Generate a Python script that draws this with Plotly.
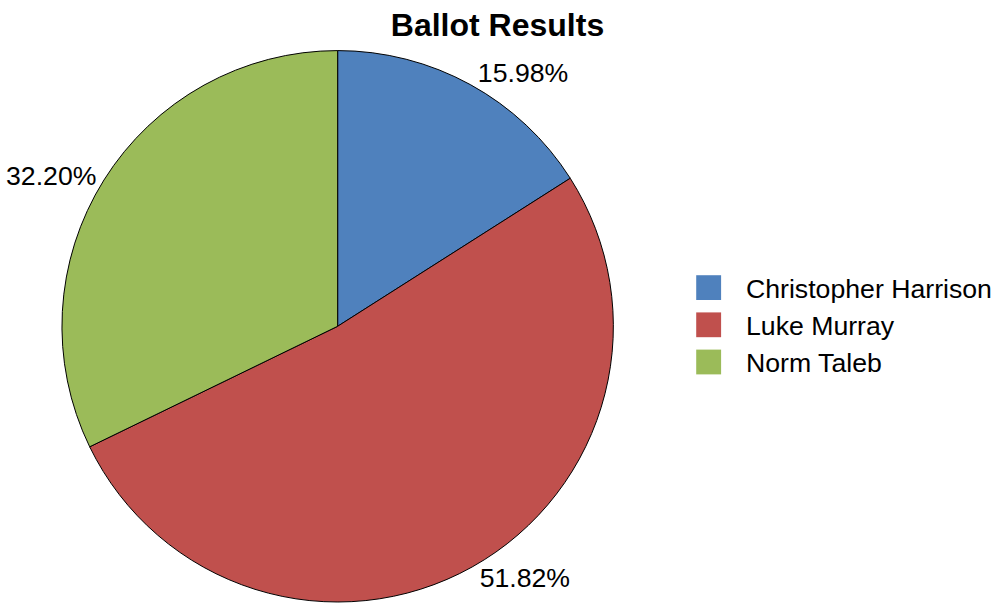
import plotly.graph_objects as go

# Data
candidates = ["Christopher Harrison", "Luke Murray", "Norm Taleb"]
shares = [15.98, 51.82, 32.20]
colors = ["#4F81BD", "#C0504D", "#9BBB59"]

W, H = 995, 607
FONT = "Liberation Sans, Arial, sans-serif"

fig = go.Figure()
fig.add_trace(go.Pie(
    labels=candidates,
    values=shares,
    sort=False,
    direction="clockwise",
    rotation=0,
    marker=dict(colors=colors, line=dict(color="black", width=1)),
    textinfo="percent",
    texttemplate="%{percent:.2%}",
    textposition="outside",
    outsidetextfont=dict(family=FONT, size=26.67, color="black"),
    showlegend=False,
    hoverinfo="label+percent",
    domain=dict(x=[57 / W, 613 / W], y=[0, 556 / H]),
))

# Custom legend (large square swatches)
shapes = []
annotations = []
row_y = [290, 327.5, 365]
for i, (name, col) in enumerate(zip(candidates, colors)):
    yc = 1 - row_y[i] / H
    shapes.append(dict(type="rect", xref="paper", yref="paper",
                       x0=695 / W, x1=720 / W,
                       y0=yc - 12.5 / H, y1=yc + 12.5 / H,
                       fillcolor=col, line=dict(width=0)))
    annotations.append(dict(xref="paper", yref="paper", x=743 / W, y=yc - 1.5 / H,
                            xanchor="left", yanchor="middle", showarrow=False,
                            text=name, font=dict(family=FONT, size=26.67, color="black")))

fig.update_layout(
    width=W, height=H,
    margin=dict(l=0, r=0, t=0, b=0),
    paper_bgcolor="white",
    plot_bgcolor="white",
    title=dict(text="<b>Ballot Results</b>", x=0.5, xanchor="center",
               y=1 - 25 / H, yanchor="middle",
               font=dict(family=FONT, size=32, color="black")),
    shapes=shapes,
    annotations=annotations,
)

fig.write_html("out.html",
               config={"displayModeBar": False},
               post_script="document.body.style.margin='0';document.body.style.overflow='hidden';")
